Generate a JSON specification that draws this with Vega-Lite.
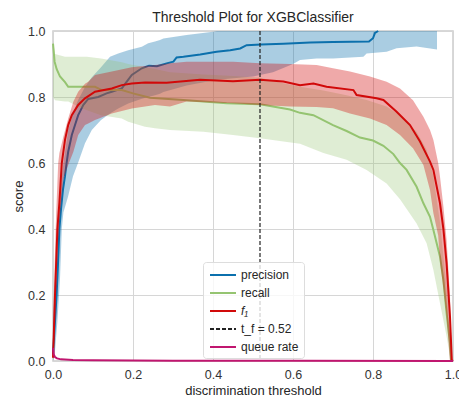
{
  "$schema": "https://vega.github.io/schema/vega-lite/v6.json",
  "width": 400,
  "height": 330,
  "autosize": "none",
  "padding": {"left": 53, "top": 31, "right": 6, "bottom": 37},
  "background": "white",
  "title": {"text": "Threshold Plot for XGBClassifier", "fontSize": 14, "font": "Liberation Sans", "fontWeight": "normal", "color": "#262626", "anchor": "middle", "offset": 0},
  "config": {
    "font": "Liberation Sans",
    "view": {"stroke": "#cccccc", "strokeWidth": 1.5},
    "axis": {"grid": true, "gridColor": "#d6d6d6", "gridWidth": 1, "domain": false, "ticks": false, "tickSize": 0, "labelFontSize": 12.5, "labelColor": "#333333", "titleFontSize": 13, "titleFontWeight": "normal", "titleColor": "#262626", "labelFont": "Liberation Sans", "titleFont": "Liberation Sans", "labelFlush": false, "labelOverlap": false}
  },
  "datasets": {
    "lines": [
      {"s":"precision","t":0,"v":0.02},{"s":"precision","t":0.003,"v":0.08},{"s":"precision","t":0.006,"v":0.14},{"s":"precision","t":0.009,"v":0.2},{"s":"precision","t":0.012,"v":0.28},{"s":"precision","t":0.016,"v":0.4},{"s":"precision","t":0.02,"v":0.46},{"s":"precision","t":0.025,"v":0.52},{"s":"precision","t":0.03,"v":0.56},{"s":"precision","t":0.034,"v":0.6},{"s":"precision","t":0.038,"v":0.634},{"s":"precision","t":0.047,"v":0.685},{"s":"precision","t":0.055,"v":0.715},{"s":"precision","t":0.063,"v":0.745},{"s":"precision","t":0.076,"v":0.776},{"s":"precision","t":0.088,"v":0.794},{"s":"precision","t":0.113,"v":0.8},{"s":"precision","t":0.134,"v":0.811},{"s":"precision","t":0.147,"v":0.816},{"s":"precision","t":0.172,"v":0.826},{"s":"precision","t":0.184,"v":0.846},{"s":"precision","t":0.197,"v":0.867},{"s":"precision","t":0.222,"v":0.887},{"s":"precision","t":0.24,"v":0.895},{"s":"precision","t":0.26,"v":0.893},{"s":"precision","t":0.284,"v":0.902},{"s":"precision","t":0.301,"v":0.907},{"s":"precision","t":0.309,"v":0.92},{"s":"precision","t":0.326,"v":0.922},{"s":"precision","t":0.368,"v":0.929},{"s":"precision","t":0.409,"v":0.937},{"s":"precision","t":0.443,"v":0.942},{"s":"precision","t":0.468,"v":0.947},{"s":"precision","t":0.484,"v":0.957},{"s":"precision","t":0.52,"v":0.959},{"s":"precision","t":0.576,"v":0.961},{"s":"precision","t":0.643,"v":0.965},{"s":"precision","t":0.7,"v":0.967},{"s":"precision","t":0.79,"v":0.968},{"s":"precision","t":0.8,"v":0.978},{"s":"precision","t":0.805,"v":0.994},{"s":"precision","t":0.813,"v":1.0},
      {"s":"recall","t":0,"v":0.962},{"s":"recall","t":0.004,"v":0.907},{"s":"recall","t":0.009,"v":0.885},{"s":"recall","t":0.0175,"v":0.862},{"s":"recall","t":0.03,"v":0.845},{"s":"recall","t":0.038,"v":0.831},{"s":"recall","t":0.105,"v":0.831},{"s":"recall","t":0.122,"v":0.821},{"s":"recall","t":0.172,"v":0.821},{"s":"recall","t":0.2,"v":0.811},{"s":"recall","t":0.2425,"v":0.798},{"s":"recall","t":0.326,"v":0.791},{"s":"recall","t":0.434,"v":0.781},{"s":"recall","t":0.5175,"v":0.778},{"s":"recall","t":0.5925,"v":0.762},{"s":"recall","t":0.6175,"v":0.752},{"s":"recall","t":0.651,"v":0.745},{"s":"recall","t":0.7,"v":0.715},{"s":"recall","t":0.734,"v":0.697},{"s":"recall","t":0.7675,"v":0.677},{"s":"recall","t":0.8,"v":0.668},{"s":"recall","t":0.826,"v":0.652},{"s":"recall","t":0.851,"v":0.627},{"s":"recall","t":0.8675,"v":0.6},{"s":"recall","t":0.884,"v":0.579},{"s":"recall","t":0.909,"v":0.528},{"s":"recall","t":0.926,"v":0.478},{"s":"recall","t":0.9425,"v":0.437},{"s":"recall","t":0.951,"v":0.397},{"s":"recall","t":0.9675,"v":0.316},{"s":"recall","t":0.976,"v":0.245},{"s":"recall","t":0.984,"v":0.145},{"s":"recall","t":0.9925,"v":0.054},{"s":"recall","t":0.995,"v":0.0},{"s":"recall","t":1.0,"v":0.0},
      {"s":"f₁","t":0,"v":0.01},{"s":"f₁","t":0.002,"v":0.08},{"s":"f₁","t":0.005,"v":0.2},{"s":"f₁","t":0.008,"v":0.3},{"s":"f₁","t":0.011,"v":0.4},{"s":"f₁","t":0.016,"v":0.48},{"s":"f₁","t":0.022,"v":0.6},{"s":"f₁","t":0.03,"v":0.67},{"s":"f₁","t":0.038,"v":0.715},{"s":"f₁","t":0.047,"v":0.745},{"s":"f₁","t":0.063,"v":0.776},{"s":"f₁","t":0.08,"v":0.796},{"s":"f₁","t":0.105,"v":0.816},{"s":"f₁","t":0.147,"v":0.826},{"s":"f₁","t":0.172,"v":0.836},{"s":"f₁","t":0.197,"v":0.841},{"s":"f₁","t":0.23,"v":0.844},{"s":"f₁","t":0.284,"v":0.843},{"s":"f₁","t":0.3675,"v":0.852},{"s":"f₁","t":0.45,"v":0.848},{"s":"f₁","t":0.5175,"v":0.852},{"s":"f₁","t":0.576,"v":0.847},{"s":"f₁","t":0.6175,"v":0.836},{"s":"f₁","t":0.651,"v":0.841},{"s":"f₁","t":0.684,"v":0.831},{"s":"f₁","t":0.751,"v":0.821},{"s":"f₁","t":0.759,"v":0.806},{"s":"f₁","t":0.809,"v":0.796},{"s":"f₁","t":0.826,"v":0.791},{"s":"f₁","t":0.859,"v":0.755},{"s":"f₁","t":0.8925,"v":0.715},{"s":"f₁","t":0.9175,"v":0.665},{"s":"f₁","t":0.9425,"v":0.604},{"s":"f₁","t":0.951,"v":0.579},{"s":"f₁","t":0.9675,"v":0.478},{"s":"f₁","t":0.976,"v":0.4},{"s":"f₁","t":0.984,"v":0.296},{"s":"f₁","t":0.9925,"v":0.134},{"s":"f₁","t":0.997,"v":0.003},{"s":"f₁","t":1.0,"v":0.0},
      {"s":"queue rate","t":0,"v":0.04},{"s":"queue rate","t":0.002,"v":0.02},{"s":"queue rate","t":0.005,"v":0.012},{"s":"queue rate","t":0.01,"v":0.008},{"s":"queue rate","t":0.02,"v":0.005},{"s":"queue rate","t":0.05,"v":0.003},{"s":"queue rate","t":0.1,"v":0.002},{"s":"queue rate","t":0.3,"v":0.001},{"s":"queue rate","t":0.6,"v":0.0005},{"s":"queue rate","t":1.0,"v":0.0}
    ],
    "bands": [
      {"s":"precision","t":0,"lo":0,"hi":0.1},{"s":"precision","t":0.005,"lo":0.03,"hi":0.25},{"s":"precision","t":0.011,"lo":0.12,"hi":0.4},{"s":"precision","t":0.0175,"lo":0.25,"hi":0.5},{"s":"precision","t":0.022,"lo":0.4,"hi":0.56},{"s":"precision","t":0.026,"lo":0.45,"hi":0.6},{"s":"precision","t":0.038,"lo":0.5,"hi":0.7},{"s":"precision","t":0.05,"lo":0.56,"hi":0.75},{"s":"precision","t":0.0625,"lo":0.6,"hi":0.79},{"s":"precision","t":0.08,"lo":0.66,"hi":0.83},{"s":"precision","t":0.097,"lo":0.7,"hi":0.86},{"s":"precision","t":0.12,"lo":0.73,"hi":0.89},{"s":"precision","t":0.1425,"lo":0.75,"hi":0.922},{"s":"precision","t":0.163,"lo":0.765,"hi":0.932},{"s":"precision","t":0.188,"lo":0.78,"hi":0.942},{"s":"precision","t":0.222,"lo":0.795,"hi":0.952},{"s":"precision","t":0.238,"lo":0.8,"hi":0.963},{"s":"precision","t":0.255,"lo":0.805,"hi":0.968},{"s":"precision","t":0.2675,"lo":0.81,"hi":0.973},{"s":"precision","t":0.276,"lo":0.815,"hi":0.977},{"s":"precision","t":0.334,"lo":0.835,"hi":0.988},{"s":"precision","t":0.4,"lo":0.85,"hi":0.998},{"s":"precision","t":0.41,"lo":0.852,"hi":1.0},{"s":"precision","t":0.5,"lo":0.862,"hi":1.0},{"s":"precision","t":0.55,"lo":0.875,"hi":1.0},{"s":"precision","t":0.6,"lo":0.9,"hi":1.0},{"s":"precision","t":0.6175,"lo":0.912,"hi":1.0},{"s":"precision","t":0.659,"lo":0.917,"hi":1.0},{"s":"precision","t":0.7,"lo":0.917,"hi":1.0},{"s":"precision","t":0.776,"lo":0.922,"hi":1.0},{"s":"precision","t":0.784,"lo":0.932,"hi":1.0},{"s":"precision","t":0.834,"lo":0.937,"hi":1.0},{"s":"precision","t":0.859,"lo":0.948,"hi":1.0},{"s":"precision","t":0.909,"lo":0.953,"hi":1.0},{"s":"precision","t":0.96,"lo":0.944,"hi":1.0},
      {"s":"recall","t":0,"lo":0.8,"hi":0.97},{"s":"recall","t":0.005,"lo":0.79,"hi":0.93},{"s":"recall","t":0.03,"lo":0.786,"hi":0.922},{"s":"recall","t":0.038,"lo":0.786,"hi":0.922},{"s":"recall","t":0.063,"lo":0.771,"hi":0.922},{"s":"recall","t":0.085,"lo":0.76,"hi":0.922},{"s":"recall","t":0.12,"lo":0.745,"hi":0.917},{"s":"recall","t":0.172,"lo":0.735,"hi":0.905},{"s":"recall","t":0.188,"lo":0.725,"hi":0.9},{"s":"recall","t":0.23,"lo":0.71,"hi":0.89},{"s":"recall","t":0.255,"lo":0.705,"hi":0.885},{"s":"recall","t":0.2925,"lo":0.7,"hi":0.875},{"s":"recall","t":0.376,"lo":0.695,"hi":0.868},{"s":"recall","t":0.45,"lo":0.685,"hi":0.864},{"s":"recall","t":0.5175,"lo":0.675,"hi":0.858},{"s":"recall","t":0.576,"lo":0.665,"hi":0.842},{"s":"recall","t":0.6175,"lo":0.658,"hi":0.831},{"s":"recall","t":0.676,"lo":0.63,"hi":0.82},{"s":"recall","t":0.734,"lo":0.61,"hi":0.805},{"s":"recall","t":0.784,"lo":0.579,"hi":0.791},{"s":"recall","t":0.834,"lo":0.538,"hi":0.771},{"s":"recall","t":0.8675,"lo":0.49,"hi":0.745},{"s":"recall","t":0.909,"lo":0.417,"hi":0.695},{"s":"recall","t":0.934,"lo":0.357,"hi":0.64},{"s":"recall","t":0.951,"lo":0.276,"hi":0.56},{"s":"recall","t":0.9675,"lo":0.175,"hi":0.42},{"s":"recall","t":0.984,"lo":0.074,"hi":0.22},{"s":"recall","t":0.9925,"lo":0.013,"hi":0.08},{"s":"recall","t":0.996,"lo":0.0,"hi":0.0},
      {"s":"f₁","t":0,"lo":0,"hi":0.05},{"s":"f₁","t":0.002,"lo":0.03,"hi":0.2},{"s":"f₁","t":0.005,"lo":0.12,"hi":0.33},{"s":"f₁","t":0.008,"lo":0.22,"hi":0.45},{"s":"f₁","t":0.011,"lo":0.32,"hi":0.54},{"s":"f₁","t":0.013,"lo":0.36,"hi":0.6},{"s":"f₁","t":0.016,"lo":0.42,"hi":0.63},{"s":"f₁","t":0.022,"lo":0.5,"hi":0.66},{"s":"f₁","t":0.026,"lo":0.55,"hi":0.68},{"s":"f₁","t":0.038,"lo":0.594,"hi":0.735},{"s":"f₁","t":0.051,"lo":0.634,"hi":0.786},{"s":"f₁","t":0.063,"lo":0.685,"hi":0.816},{"s":"f₁","t":0.08,"lo":0.715,"hi":0.84},{"s":"f₁","t":0.088,"lo":0.72,"hi":0.846},{"s":"f₁","t":0.105,"lo":0.73,"hi":0.867},{"s":"f₁","t":0.147,"lo":0.75,"hi":0.877},{"s":"f₁","t":0.197,"lo":0.765,"hi":0.89},{"s":"f₁","t":0.255,"lo":0.776,"hi":0.897},{"s":"f₁","t":0.2925,"lo":0.771,"hi":0.902},{"s":"f₁","t":0.334,"lo":0.786,"hi":0.907},{"s":"f₁","t":0.45,"lo":0.781,"hi":0.907},{"s":"f₁","t":0.5175,"lo":0.776,"hi":0.902},{"s":"f₁","t":0.5925,"lo":0.771,"hi":0.9},{"s":"f₁","t":0.659,"lo":0.77,"hi":0.897},{"s":"f₁","t":0.7,"lo":0.766,"hi":0.887},{"s":"f₁","t":0.7425,"lo":0.75,"hi":0.877},{"s":"f₁","t":0.7925,"lo":0.735,"hi":0.862},{"s":"f₁","t":0.834,"lo":0.715,"hi":0.846},{"s":"f₁","t":0.8675,"lo":0.685,"hi":0.826},{"s":"f₁","t":0.9,"lo":0.645,"hi":0.79},{"s":"f₁","t":0.926,"lo":0.594,"hi":0.74},{"s":"f₁","t":0.9425,"lo":0.518,"hi":0.7},{"s":"f₁","t":0.951,"lo":0.448,"hi":0.67},{"s":"f₁","t":0.963,"lo":0.38,"hi":0.6},{"s":"f₁","t":0.9675,"lo":0.3,"hi":0.558},{"s":"f₁","t":0.976,"lo":0.22,"hi":0.468},{"s":"f₁","t":0.984,"lo":0.134,"hi":0.367},{"s":"f₁","t":0.9925,"lo":0.0,"hi":0.195},{"s":"f₁","t":0.997,"lo":0.0,"hi":0.003}
    ],
    "thr": [{"s":"t_f = 0.52","t":0.5175}]
  },
  "encoding": {
    "x": {"field":"t","type":"quantitative","scale":{"domain":[0,1],"nice":false,"zero":false},"axis":{"values":[0,0.2,0.4,0.6,0.8,1],"format":".1f","title":"discrimination threshold","labelPadding":7,"titlePadding":4}},
    "y": {"field":"v","type":"quantitative","scale":{"domain":[0,1],"nice":false,"zero":false},"axis":{"values":[0,0.2,0.4,0.6,0.8,1],"format":".1f","title":"score","labelPadding":8,"titlePadding":2}}
  },
  "layer": [
    {"data":{"name":"lines"},"transform":[{"filter":"datum.s === 'precision'"}],"mark":{"type":"line","strokeWidth":2},
     "encoding":{"color":{"field":"s","type":"nominal","scale":{"domain":["precision","recall","f₁","t_f = 0.52","queue rate"],"range":["#0b70ad","#95c471","#d10a0a","#222222","#c0166f"]},
       "legend":{"title":null,"orient":"none","legendX":150,"legendY":231,"symbolType":"M-1.9,0H1.9","symbolSize":187,"symbolOffset":7,"symbolStrokeWidth":2,"labelFontSize":12,"labelColor":"#262626","labelFont":"Liberation Sans","padding":5,"fillColor":"rgba(255,255,255,0.8)","strokeColor":"#dddddd","cornerRadius":3,"rowPadding":4,"labelOffset":10,"symbolOpacity":1,
         "encode":{"symbols":{"update":{"strokeDash":{"signal":"datum.value === 't_f = 0.52' ? [4, 2] : [1, 0]"}}},"labels":{"update":{"fontStyle":{"signal":"datum.value === 'f₁' ? 'italic' : 'normal'"}}}}}}}},
    {"data":{"name":"bands"},"transform":[{"filter":"datum.s === 'precision'"}],"mark":{"type":"area","color":"#0b70ad","opacity":0.35},"encoding":{"y":{"field":"lo","type":"quantitative"},"y2":{"field":"hi"}}},
    {"data":{"name":"lines"},"transform":[{"filter":"datum.s === 'recall'"}],"mark":{"type":"line","strokeWidth":2},"encoding":{"color":{"field":"s","type":"nominal"}}},
    {"data":{"name":"bands"},"transform":[{"filter":"datum.s === 'recall'"}],"mark":{"type":"area","color":"#95c471","opacity":0.3},"encoding":{"y":{"field":"lo","type":"quantitative"},"y2":{"field":"hi"}}},
    {"data":{"name":"lines"},"transform":[{"filter":"datum.s === 'f₁'"}],"mark":{"type":"line","strokeWidth":2},"encoding":{"color":{"field":"s","type":"nominal"}}},
    {"data":{"name":"bands"},"transform":[{"filter":"datum.s === 'f₁'"}],"mark":{"type":"area","color":"#d10a0a","opacity":0.35},"encoding":{"y":{"field":"lo","type":"quantitative"},"y2":{"field":"hi"}}},
    {"data":{"name":"lines"},"transform":[{"filter":"datum.s === 'queue rate'"}],"mark":{"type":"line","strokeWidth":2},"encoding":{"color":{"field":"s","type":"nominal"}}},
    {"data":{"name":"thr"},"mark":{"type":"rule","strokeDash":[4,2],"strokeWidth":1.2},"encoding":{"x":{"field":"t","type":"quantitative"},"y":null,"color":{"field":"s","type":"nominal"}}}
  ]
}
